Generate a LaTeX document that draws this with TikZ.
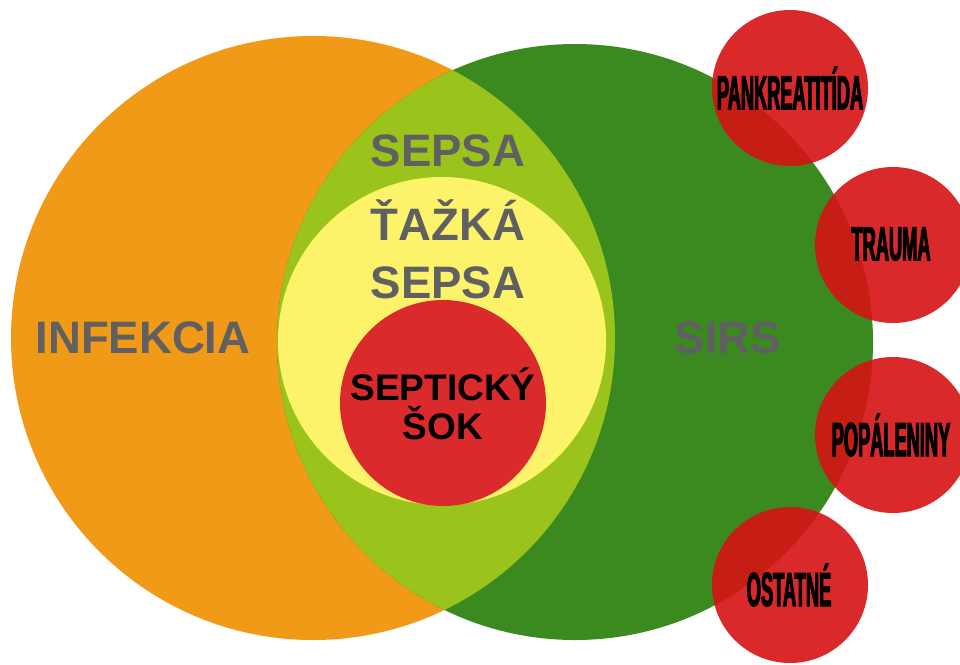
\documentclass[tikz,border=0pt]{standalone}
\usepackage{fontspec}
\setmainfont{Liberation Sans}
\newfontfamily\narrowfont[FakeStretch=0.38,FakeBold=2]{Liberation Sans Bold}
\usepackage{xcolor}
\usepackage{tikz}
\usetikzlibrary{positioning}

\definecolor{infekciaorange}{HTML}{F09A17}
\definecolor{sirsgreen}{HTML}{3B8A1F}
\definecolor{sepsalime}{HTML}{9AC41C}
\definecolor{tazkayellow}{HTML}{FDF36A}
\definecolor{sokred}{HTML}{DB2A2C}
\definecolor{causered}{HTML}{D61214}
\definecolor{labelgray}{HTML}{606063}

\begin{document}
\begin{tikzpicture}[
    x=1pt, y=-1pt,
    venn/.style={circle, draw=none, inner sep=0pt},
    cause/.style={venn, fill=causered, fill opacity=0.9, minimum size=156pt},
    biglabel/.style={font=\fontsize{45.5}{58}\selectfont\bfseries, text=labelgray, align=center},
    causelabel/.style={font=\fontsize{48}{50}\narrowfont, text=black}
  ]
  \useasboundingbox (0,0) rectangle (960,664);

  % Infection and SIRS
  \node[venn, fill=infekciaorange, minimum size=604pt] (infekcia) at (313,338) {};
  \node[venn, fill=sirsgreen, minimum size=596pt] (sirs) at (575,342) {};

  % Sepsis = overlap
  \begin{scope}
    \clip (313,338) circle (302);
    \fill[sepsalime] (575,342) circle (298);
  \end{scope}

  % Severe sepsis and septic shock
  \node[venn, fill=tazkayellow, minimum size=328pt] (tazka) at (442,341) {};
  \node[venn, fill=sokred, minimum size=206pt] (sok) at (443,403) {};

  % Labels
  \node[biglabel] (infekciaLabel) at (143,338) {INFEKCIA};
  \node[biglabel] (sirsLabel) at (728,338) {SIRS};
  \node[biglabel] (sepsaLabel) at (448,151) {SEPSA};
  \node[biglabel] (tazkaLabel) at (448,249) {ŤAŽKÁ\\SEPSA};
  \node[font=\fontsize{37}{39}\selectfont\bfseries, align=center] (sokLabel) at (443,404) {SEPTICKÝ\\ŠOK};

  % Other causes of SIRS
  \node[cause] (pankreatitida) at (790,88) {};
  \node[cause] (trauma) at (893,245) {};
  \node[cause] (popaleniny) at (893,435) {};
  \node[cause] (ostatne) at (790,585) {};

  \node[causelabel] at (pankreatitida) {PANKREATITÍDA};
  \node[causelabel] at (891,244) {TRAUMA};
  \node[causelabel] at (891,435) {POPÁLENINY};
  \node[causelabel] at (789,585) {OSTATNÉ};

\end{tikzpicture}
\end{document}
